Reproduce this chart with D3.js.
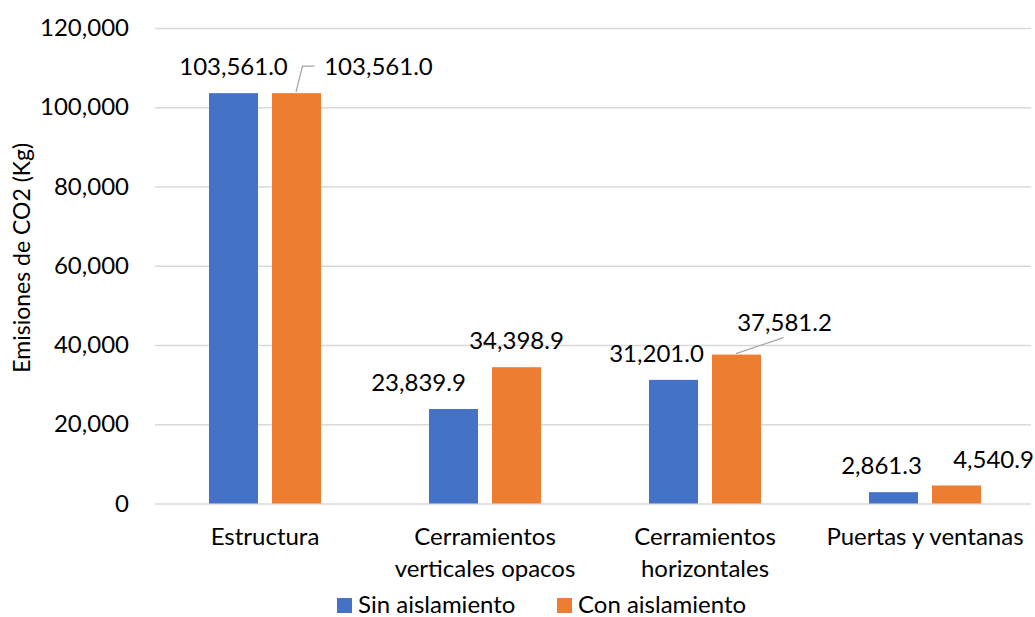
<!DOCTYPE html>
<html>
<head>
<meta charset="utf-8">
<script src="https://cdn.jsdelivr.net/npm/d3@7"></script>
<style>
  body { margin: 0; background: #fff; }
  text { font-family: Lato, "Open Sans", sans-serif; fill: #000; }
</style>
</head>
<body>
<div id="chart"></div>
<script>
// data
var categories = [["Estructura"], ["Cerramientos", "verticales opacos"], ["Cerramientos", "horizontales"], ["Puertas y ventanas"]];
var seriesNames = ["Sin aislamiento", "Con aislamiento"];
var sinAislamiento = [103561.0, 23839.9, 31201.0, 2861.3];
var conAislamiento = [103561.0, 34398.9, 37581.2, 4540.9];
var yTicks = [0, 20000, 40000, 60000, 80000, 100000, 120000];

// label nudges (dx, dy) per series / category, as Excel placed them
var labelNudge = [
  [[0, 0], [-35, 0], [-17, 0], [-12, 0]],
  [[82, 0], [0, 0], [48, -6], [37, 0]]
];

var colors = ["#4472c4", "#ed7d31"];
var W = 1035, H = 617;
var plotLeft = 155, plotRight = 1035, plotTop = 28, plotBottom = 503.5;
var fs = "24px";

var svg = d3.select("#chart").append("svg")
  .attr("width", W).attr("height", H);

var x0 = d3.scaleBand().domain(d3.range(categories.length)).range([plotLeft, plotRight]).padding(0);
var x1 = d3.scaleBand().domain([0, 1]).range([54, 166]).paddingInner(0.222);
var y = d3.scaleLinear().domain([0, 120000]).range([plotBottom, plotTop]);

// gridlines
var yAxis = d3.axisLeft(y).tickValues(yTicks).tickSize(-(plotRight - plotLeft - 4)).tickPadding(26)
  .tickFormat(d3.format(","));
var gy = svg.append("g").attr("transform", "translate(" + plotLeft + ",0)").call(yAxis);
gy.select(".domain").remove();
gy.selectAll(".tick line").attr("stroke", "#d9d9d9").attr("stroke-width", 1.5);
gy.selectAll(".tick text").style("font-size", fs).attr("fill", "#000");

// y title
svg.append("text")
  .attr("transform", "translate(30," + ((plotTop + plotBottom) / 2 - 8) + ") rotate(-90)")
  .attr("text-anchor", "middle")
  .style("font-size", "23px")
  .text("Emisiones de CO2 (Kg)");

var series = [sinAislamiento, conAislamiento];
series.forEach(function(vals, s) {
  svg.append("g").selectAll("rect")
    .data(vals)
    .enter().append("rect")
    .attr("x", function(d, i) { return x0(i) + x1(s); })
    .attr("y", function(d) { return y(d); })
    .attr("width", x1.bandwidth())
    .attr("height", function(d) { return y(0) - y(d); })
    .attr("fill", colors[s]);

  svg.append("g").selectAll("text")
    .data(vals)
    .enter().append("text")
    .attr("x", function(d, i) { return x0(i) + x1(s) + x1.bandwidth() / 2 + labelNudge[s][i][0]; })
    .attr("y", function(d, i) { return y(d) - 18 + labelNudge[s][i][1]; })
    .attr("text-anchor", "middle")
    .style("font-size", fs)
    .text(function(d) { return d3.format(",.1f")(d); });
});

// leader lines
function barTop(s, i) {
  return [x0(i) + x1(s) + x1.bandwidth() / 2, y(series[s][i])];
}
var p = barTop(1, 0);
svg.append("path")
  .attr("d", "M" + (p[0] - 0.5) + "," + (p[1] - 1) + "L" + (p[0] + 6) + "," + (p[1] - 27) + "L" + (p[0] + 18) + "," + (p[1] - 27))
  .attr("fill", "none").attr("stroke", "#a6a6a6").attr("stroke-width", 1.3);
p = barTop(1, 2);
svg.append("path")
  .attr("d", "M" + (p[0] - 0.5) + "," + (p[1] - 1) + "L" + (p[0] + 47) + "," + (p[1] - 17))
  .attr("fill", "none").attr("stroke", "#a6a6a6").attr("stroke-width", 1.3);

// category labels
var xl = svg.append("g").selectAll("text")
  .data(categories)
  .enter().append("text")
  .attr("x", function(d, i) { return x0(i) + x0.bandwidth() / 2; })
  .attr("y", 545)
  .attr("text-anchor", "middle")
  .style("font-size", fs);
xl.selectAll("tspan")
  .data(function(d) { return d; })
  .enter().append("tspan")
  .attr("x", function() { return this.parentNode.getAttribute("x"); })
  .attr("dy", function(d, j) { return j === 0 ? 0 : 32; })
  .text(function(d) { return d; });

// legend
var legX = [337, 557];
var leg = svg.append("g").selectAll("g")
  .data(seriesNames)
  .enter().append("g")
  .attr("transform", function(d, i) { return "translate(" + legX[i] + ",598)"; });
leg.append("rect").attr("width", 15).attr("height", 15).attr("fill", function(d, i) { return colors[i]; });
leg.append("text").attr("x", 21).attr("y", 15).style("font-size", fs).text(function(d) { return d; });
</script>
</body>
</html>
